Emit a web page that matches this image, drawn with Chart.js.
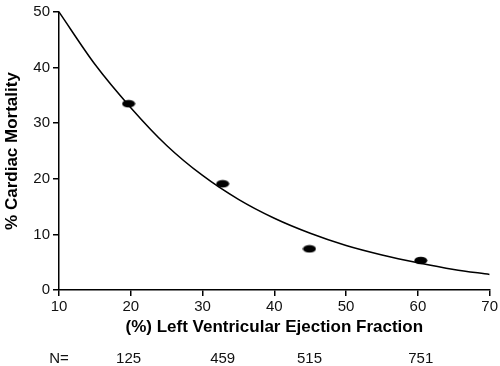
<!DOCTYPE html>
<html>
<head>
<meta charset="utf-8">
<script src="https://cdn.jsdelivr.net/npm/chart.js@4"></script>
<style>
  html, body { margin: 0; padding: 0; background: #fff; }
  #wrap { width: 500px; height: 366px; }
</style>
</head>
<body>
<div id="wrap"><canvas id="chart"></canvas></div>
<script>
// fitted curve
const curveX = [10, 15, 20, 25, 30, 35, 40, 45, 50, 55, 60, 65, 70];
const curveY = [50, 40.6, 32.8, 26.0, 20.6, 16.3, 12.9, 10.2, 8.0, 6.3, 4.9, 3.7, 2.8];

// observed groups
const ptX = [19.7, 32.8, 44.9, 60.4];
const ptY = [33.5, 19.1, 7.4, 5.3];
const nLabels = ['125', '459', '515', '751'];

const xTicks = [10, 20, 30, 40, 50, 60, 70];
const yTicks = [0, 10, 20, 30, 40, 50];

const FONT = '"Liberation Sans", Arial, Helvetica, sans-serif';

// flat black ellipse used as point marker
function ellipseMark() {
  const c = document.createElement('canvas');
  c.width = 14; c.height = 9;
  const g = c.getContext('2d');
  g.fillStyle = '#000';
  g.beginPath();
  g.ellipse(7, 4.5, 6.5, 3.8, 0, 0, Math.PI * 2);
  g.fill();
  return c;
}

// N= row under the axis title
const nRow = {
  id: 'nRow',
  afterDraw(chart) {
    const { ctx, scales: { x } } = chart;
    ctx.save();
    ctx.font = '15px ' + FONT;
    ctx.fillStyle = '#111';
    ctx.textAlign = 'center';
    ctx.textBaseline = 'middle';
    const y = 359;
    ctx.fillText('N=', x.getPixelForValue(xTicks[0]), y);
    nLabels.forEach((t, i) => ctx.fillText(t, x.getPixelForValue(ptX[i]), y));
    ctx.restore();
  }
};

new Chart(document.getElementById('chart'), {
  type: 'scatter',
  data: {
    datasets: [
      {
        data: curveX.map((x, i) => ({ x, y: curveY[i] })),
        showLine: true,
        borderColor: '#000',
        borderWidth: 1.5,
        pointRadius: 0,
        cubicInterpolationMode: 'monotone',
        order: 2
      },
      {
        data: ptX.map((x, i) => ({ x, y: ptY[i] })),
        pointStyle: ellipseMark(),
        pointRadius: 6,
        order: 1
      }
    ]
  },
  options: {
    responsive: true,
    maintainAspectRatio: false,
    animation: false,
    layout: { padding: { top: 8, right: 9, left: 0, bottom: 0 } },
    plugins: { legend: { display: false }, tooltip: { enabled: false } },
    scales: {
      x: {
        min: 10, max: 70,
        afterFit: s => { s.height = 76; },
        afterBuildTicks: s => { s.ticks = xTicks.map(v => ({ value: v })); },
        border: { color: '#000', width: 1.5 },
        grid: { drawOnChartArea: false, color: '#000', lineWidth: 1.5, tickLength: 6 },
        ticks: { color: '#111', padding: 2, maxRotation: 0, font: { family: FONT, size: 15 } },
        title: {
          display: true, text: '(%) Left Ventricular Ejection Fraction', color: '#000',
          font: { family: FONT, size: 17, weight: 'bold' }, padding: { top: 0, bottom: 28 }
        }
      },
      y: {
        min: 0, max: 50,
        afterFit: s => { s.width = 59; },
        afterBuildTicks: s => { s.ticks = yTicks.map(v => ({ value: v })); },
        border: { color: '#000', width: 1.5 },
        grid: { drawOnChartArea: false, color: '#000', lineWidth: 1.5, tickLength: 6 },
        ticks: { color: '#111', padding: 3, font: { family: FONT, size: 15 } },
        title: {
          display: true, text: '% Cardiac Mortality', color: '#000',
          font: { family: FONT, size: 17, weight: 'bold' }, padding: { top: 2, bottom: 0 }
        }
      }
    }
  },
  plugins: [nRow]
});
</script>
</body>
</html>
